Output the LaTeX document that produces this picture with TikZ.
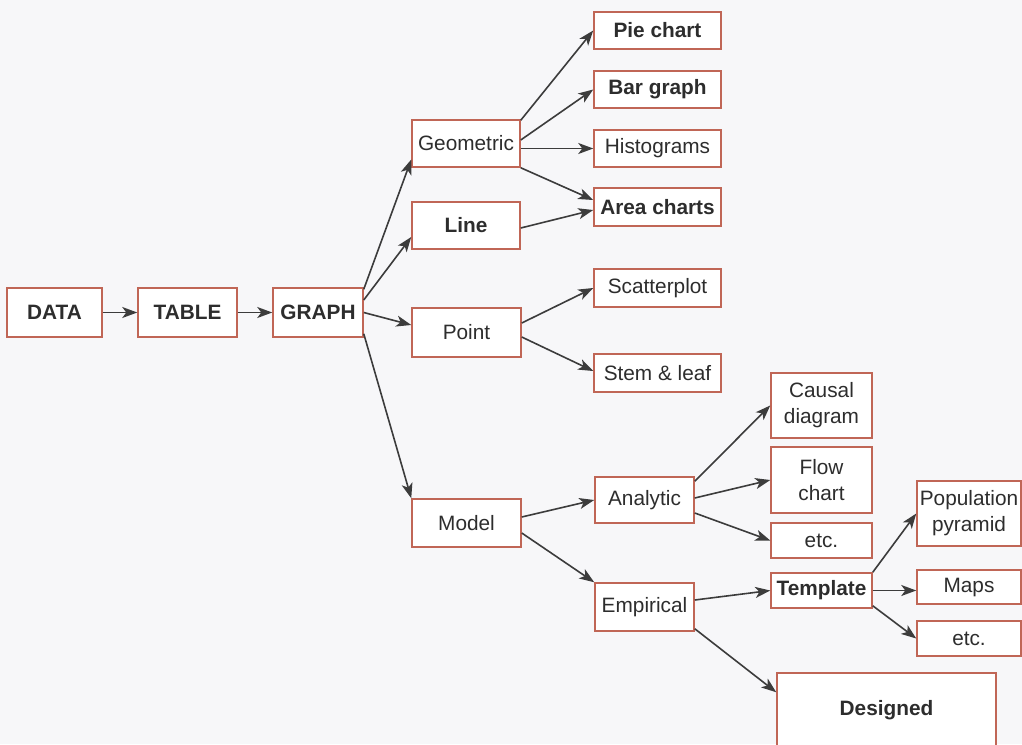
\documentclass[tikz,border=0pt]{standalone}
\usepackage{fontspec}
\setmainfont{Liberation Sans}
\usetikzlibrary{arrows.meta}
\definecolor{boxred}{RGB}{192,102,86}
\definecolor{inkgray}{RGB}{45,45,45}
\definecolor{arrgray}{RGB}{60,60,60}
\definecolor{paper}{RGB}{247,247,249}
\tikzset{
  box/.style={draw=boxred, fill=white, line width=1.5pt, inner sep=0pt, align=center,
    text=inkgray, font=\fontsize{20.8}{26}\selectfont},
  bbox/.style={box, font=\fontsize{20.8}{26}\selectfont\bfseries},
  conn/.style={draw=arrgray, line width=1.6pt, -{Stealth[length=15pt,width=11pt,inset=4pt]}},
}
\begin{document}
\begin{tikzpicture}[x=1pt,y=-1pt]
\useasboundingbox (0,0) rectangle (1022,744);
\fill[paper] (0,0) rectangle (1022,744);
\begin{scope}
\clip (0,0) rectangle (1022,744);
% column 1
\node[bbox, minimum width=95pt, minimum height=49pt] (data) at (54.5,312.5) {DATA};
\node[bbox, minimum width=99pt, minimum height=49pt] (table) at (187.5,312.5) {TABLE};
\node[bbox, minimum width=90pt, minimum height=49pt] (graph) at (318,312.5) {GRAPH};
% column 2
\node[box, minimum width=108pt, minimum height=47pt] (geom) at (466,143.5) {Geometric};
\node[bbox, minimum width=108pt, minimum height=47pt] (line) at (466,225.5) {Line};
\node[box, minimum width=109pt, minimum height=49pt] (point) at (466.5,332.5) {Point};
\node[box, minimum width=109pt, minimum height=48pt] (model) at (466.5,523) {Model};
% column 3
\node[bbox, minimum width=127pt, minimum height=37pt] (pie) at (657.5,30.5) {Pie chart};
\node[bbox, minimum width=127pt, minimum height=37pt] (bar) at (657.5,89.5) {Bar graph};
\node[box, minimum width=127pt, minimum height=37pt] (hist) at (657.5,148.5) {Histograms};
\node[bbox, minimum width=127pt, minimum height=38pt] (area) at (657.5,207) {Area charts};
\node[box, minimum width=127pt, minimum height=38pt] (scat) at (657.5,288) {Scatterplot};
\node[box, minimum width=127pt, minimum height=38pt] (stem) at (657.5,373) {Stem \& leaf};
\node[box, minimum width=99pt, minimum height=46pt] (anal) at (644.5,500) {Analytic};
\node[box, minimum width=99pt, minimum height=48pt] (emp) at (644.5,607) {Empirical};
% column 4
\node[box, minimum width=101pt, minimum height=65pt] (causal) at (821.5,405.5) {Causal\\diagram};
\node[box, minimum width=101pt, minimum height=66pt] (flow) at (821.5,480) {Flow\\chart};
\node[box, minimum width=101pt, minimum height=35pt] (etca) at (821.5,540.5) {etc.};
\node[bbox, minimum width=101pt, minimum height=35pt] (templ) at (821.5,590.5) {Template};
\node[bbox, minimum width=219pt, minimum height=74pt] (design) at (886.5,710) {Designed};
% column 5
\node[box, minimum width=104pt, minimum height=65pt] (pop) at (969,513.5) {Population\\pyramid};
\node[box, minimum width=104pt, minimum height=34pt] (maps) at (969,587) {Maps};
\node[box, minimum width=104pt, minimum height=35pt] (etcb) at (969,638.5) {etc.};
% connectors
\draw[conn] (data) -- (table);
\draw[conn] (table) -- (graph);
\draw[conn] ([yshift=-2pt]graph.north east) -- ([yshift=-16pt]geom.west);
\draw[conn] ([yshift=12.5pt]graph.east) -- ([yshift=-11.5pt]line.west);
\draw[conn] (graph.east) -- ([yshift=7.5pt]point.west);
\draw[conn] ([yshift=4pt]graph.south east) -- (model.north west);
\draw[conn] ([yshift=-1pt]geom.north east) -- (pie.west);
\draw[conn] ([yshift=3.5pt]geom.east) -- (bar.west);
\draw[conn] ([yshift=-5pt]geom.east) -- (hist.west);
\draw[conn] (geom.south east) -- ([yshift=7pt]area.west);
\draw[conn] ([yshift=-2.5pt]line.east) -- ([yshift=-3pt]area.west);
\draw[conn] ([yshift=9.5pt]point.east) -- (scat.west);
\draw[conn] ([yshift=-4.5pt]point.east) -- ([yshift=2pt]stem.west);
\draw[conn] ([yshift=6pt]model.east) -- (anal.west);
\draw[conn] ([yshift=-10pt]model.east) -- (emp.north west);
\draw[conn] ([yshift=-5pt]anal.north east) -- (causal.west);
\draw[conn] ([yshift=2pt]anal.east) -- (flow.west);
\draw[conn] ([yshift=-13pt]anal.east) -- (etca.west);
\draw[conn] ([yshift=7pt]emp.east) -- (templ.west);
\draw[conn] ([yshift=3pt]emp.south east) -- ([yshift=-20pt]design.north west);
\draw[conn] (templ.north east) -- (pop.west);
\draw[conn] (templ.east) -- (maps.west |- templ.east);
\draw[conn] ([yshift=3pt]templ.south east) -- (etcb.west);
\end{scope}
\end{tikzpicture}
\end{document}
